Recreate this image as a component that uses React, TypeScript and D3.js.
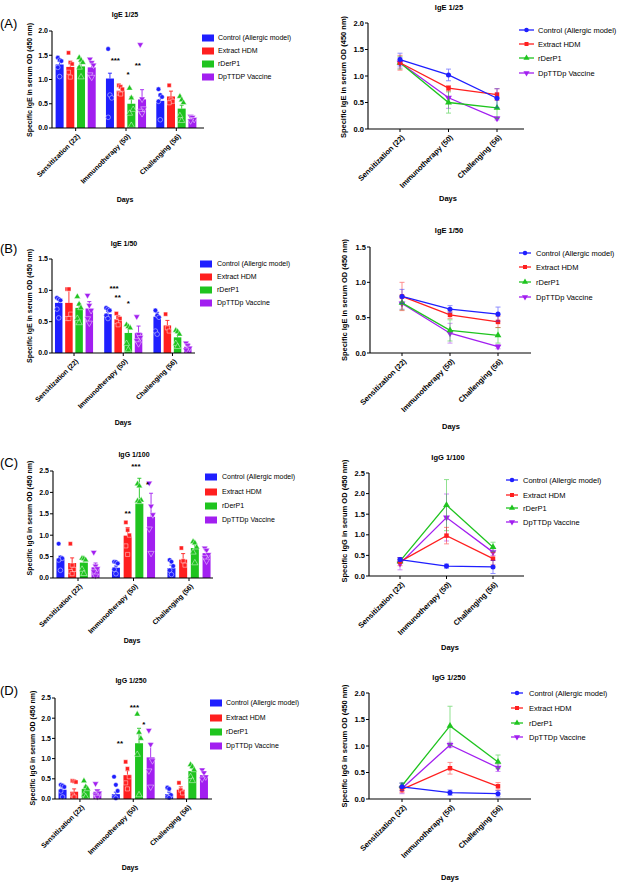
import React from "react";
import * as d3 from "d3";

const categories = ["Sensitization (22)", "Immunotherapy (50)", "Challenging (56)"];
const seriesNames = ["Control (Allergic model)", "Extract HDM", "rDerP1", "DpTTDp Vaccine"];
const seriesNamesA = ["Control (Allergic model)", "Extract HDM", "rDerP1", "DpTTDP Vaccine"];
const seriesColors = ["#1f1fff", "#ff1f1f", "#1fc41f", "#a21ff0"];
const seriesShapes = ["circle", "square", "triangle", "triangleDown"];

// ---- IgE 1/25 ----
const ige25BarMean = [[1.31, 1.02, 0.56], [1.26, 0.77, 0.65], [1.27, 0.5, 0.4], [1.25, 0.59, 0.19]];
const ige25BarSem = [[0.06, 0.11, 0.09], [0.09, 0.05, 0.11], [0.07, 0.14, 0.07], [0.09, 0.2, 0.05]];
const ige25BarPts = [
  [[1.45, 1.4, 1.38, 1.25, 1.06], [1.63, 0.68, 0.62, 0.22], [0.8, 0.68, 0.64, 0.55, 0.17]],
  [[1.55, 1.35, 1.32, 1.15, 1.05], [0.88, 0.85, 0.8, 0.72, 0.7], [0.88, 0.58, 0.55, 0.52]],
  [[1.45, 1.4, 1.35, 1.25, 1.05], [0.82, 0.62, 0.38, 0.3, 0.05], [0.65, 0.58, 0.52, 0.25, 0.15]],
  [[1.42, 1.35, 1.3, 1.1, 1.05], [1.72, 0.6, 0.4, 0.35, 0.3], [0.24, 0.22, 0.18, 0.15]],
];
const ige25Stars = [
  { cat: 1, pos: 0.5, value: 1.42, label: "***" },
  { cat: 1, pos: 1.7, value: 1.13, label: "*" },
  { cat: 1, pos: 2.6, value: 1.32, label: "**" },
];
const ige25LineMean = [[1.31, 1.02, 0.58], [1.25, 0.77, 0.65], [1.25, 0.5, 0.4], [1.25, 0.59, 0.2]];
const ige25LineSem = [[0.12, 0.11, 0.18], [0.14, 0.05, 0.11], [0.12, 0.2, 0.2], [0.1, 0.2, 0.03]];

// ---- IgE 1/50 ----
const ige50BarMean = [[0.8, 0.62, 0.58], [0.8, 0.54, 0.44], [0.72, 0.32, 0.25], [0.71, 0.32, 0.1]];
const ige50BarSem = [[0.05, 0.04, 0.07], [0.2, 0.05, 0.08], [0.07, 0.1, 0.07], [0.11, 0.11, 0.05]];
const ige50BarPts = [
  [[0.88, 0.86, 0.84, 0.7, 0.56], [0.72, 0.7, 0.68, 0.6, 0.55], [0.68, 0.6, 0.57, 0.35, 0.3]],
  [[1.02, 1.02, 0.62, 0.55, 0.55], [0.63, 0.57, 0.55, 0.5, 0.45], [0.62, 0.4, 0.35]],
  [[0.9, 0.78, 0.72, 0.55, 0.48], [0.45, 0.42, 0.4, 0.15, 0.05], [0.36, 0.34, 0.3, 0.15, 0.1]],
  [[0.92, 0.76, 0.68, 0.55, 0.48], [0.58, 0.3, 0.25, 0.2, 0.15], [0.16, 0.12, 0.08, 0.05]],
];
const ige50Stars = [
  { cat: 1, pos: 0.6, value: 1.04, label: "***" },
  { cat: 1, pos: 0.95, value: 0.9, label: "**" },
  { cat: 1, pos: 2.0, value: 0.8, label: "*" },
];
const ige50LineMean = [[0.8, 0.62, 0.55], [0.8, 0.54, 0.44], [0.71, 0.32, 0.25], [0.7, 0.28, 0.09]];
const ige50LineSem = [[0.1, 0.05, 0.1], [0.2, 0.05, 0.08], [0.1, 0.15, 0.11], [0.08, 0.14, 0.03]];

// ---- IgG 1/100 ----
const igg100BarMean = [[0.45, 0.24, 0.23], [0.35, 0.99, 0.43], [0.36, 1.74, 0.7], [0.25, 1.43, 0.58]];
const igg100BarSem = [[0.06, 0.04, 0.07], [0.12, 0.19, 0.14], [0.06, 0.59, 0.08], [0.1, 0.55, 0.07]];
const igg100BarPts = [
  [[0.8, 0.48, 0.46, 0.42, 0.18], [0.38, 0.37, 0.34, 0.2, 0.1], [0.42, 0.38, 0.28, 0.18, 0.08]],
  [[0.8, 0.3, 0.2, 0.15, 0.1], [1.3, 1.12, 1.0, 0.75, 0.55], [0.7, 0.4, 0.3]],
  [[0.46, 0.45, 0.42, 0.2, 0.1], [2.2, 2.15, 1.82, 1.8, 1.78], [0.85, 0.82, 0.72, 0.6, 0.35]],
  [[0.6, 0.28, 0.22, 0.15, 0.05], [2.22, 1.68, 1.48, 1.15, 0.58], [0.7, 0.65, 0.55, 0.48, 0.4]],
];
const igg100Stars = [
  { cat: 1, pos: 1.0, value: 1.54, label: "**" },
  { cat: 1, pos: 1.7, value: 2.62, label: "***" },
  { cat: 1, pos: 2.7, value: 2.2, label: "*" },
];
const igg100LineMean = [[0.4, 0.24, 0.22], [0.35, 0.98, 0.42], [0.36, 1.72, 0.7], [0.3, 1.42, 0.58]];
const igg100LineSem = [[0.05, 0.05, 0.16], [0.1, 0.2, 0.15], [0.05, 0.62, 0.12], [0.15, 0.57, 0.08]];

// ---- IgG 1/250 ----
const igg250BarMean = [[0.23, 0.12, 0.12], [0.18, 0.59, 0.23], [0.25, 1.38, 0.69], [0.18, 1.03, 0.59]];
const igg250BarSem = [[0.05, 0.05, 0.05], [0.07, 0.11, 0.07], [0.07, 0.37, 0.07], [0.05, 0.35, 0.07]];
const igg250BarPts = [
  [[0.35, 0.33, 0.3, 0.2, 0.05], [0.55, 0.35, 0.2, 0.05, 0.02], [0.28, 0.25, 0.1, 0.05, 0.03]],
  [[0.45, 0.44, 0.42, 0.1, 0.05], [0.92, 0.75, 0.55, 0.4, 0.25], [0.4, 0.22, 0.15]],
  [[0.45, 0.3, 0.25, 0.1, 0.05], [2.1, 1.65, 1.5, 1.1, 0.1], [0.85, 0.8, 0.72, 0.55, 0.45]],
  [[0.38, 0.2, 0.15, 0.1, 0.05], [1.7, 1.35, 0.95, 0.7, 0.3], [0.72, 0.65, 0.55, 0.5]],
];
const igg250Stars = [
  { cat: 1, pos: 0.35, value: 1.39, label: "**" },
  { cat: 1, pos: 1.6, value: 2.28, label: "***" },
  { cat: 1, pos: 2.4, value: 1.86, label: "*" },
];
const igg250LineMean = [[0.23, 0.12, 0.1], [0.18, 0.58, 0.24], [0.25, 1.38, 0.7], [0.2, 1.02, 0.59]];
const igg250LineSem = [[0.07, 0.05, 0.06], [0.06, 0.11, 0.07], [0.05, 0.37, 0.13], [0.1, 0.05, 0.07]];

const FONT = "'Liberation Sans', Arial, Helvetica, sans-serif";

function symbolPath(shape: string, size: number) {
  const t =
    shape === "circle" ? d3.symbolCircle : shape === "square" ? d3.symbolSquare : d3.symbolTriangle;
  return d3.symbol().type(t).size(size)() as string;
}

function Marker({ shape, x, y, size, fill, stroke, sw }: any) {
  const rot = shape === "triangleDown" ? 180 : 0;
  return (
    <path
      d={symbolPath(shape, size)}
      transform={`translate(${x},${y}) rotate(${rot})`}
      fill={fill}
      stroke={stroke}
      strokeWidth={sw}
    />
  );
}

function CommonText({ cfg, fs }: any) {
  return (
    <g fontFamily={FONT} fill="#000">
      <text x={cfg.titleX} y={cfg.titleY} dy="0.35em" textAnchor="middle" fontSize={fs} fontWeight="bold">
        {cfg.title}
      </text>
      <text
        transform={`translate(${cfg.ylabX},${cfg.ylabY}) rotate(-90)`}
        dy="0.35em"
        textAnchor="middle"
        fontSize={fs}
        fontWeight="bold"
      >
        {cfg.ylabel}
      </text>
      <text x={cfg.daysX} y={cfg.daysY} dy="0.35em" textAnchor="middle" fontSize={fs} fontWeight="bold">
        Days
      </text>
      {cfg.letter && (
        <text x={0} y={cfg.letterY} dy="0.36em" fontSize={13}>
          {cfg.letter}
        </text>
      )}
    </g>
  );
}

function Axes({ cfg, y, xs, fs }: any) {
  const ticks = d3.range(0, cfg.yMax + 1e-9, 0.5);
  return (
    <g fontFamily={FONT}>
      <line x1={cfg.axisX} x2={cfg.axisX} y1={cfg.yBottom} y2={y(cfg.yMax)} stroke="#000" strokeWidth={1.1} />
      <line x1={cfg.axisX} x2={cfg.axisEnd} y1={cfg.yBottom} y2={cfg.yBottom} stroke="#000" strokeWidth={1.1} />
      {ticks.map((t: number) => (
        <g key={t}>
          <line x1={cfg.axisX - 3} x2={cfg.axisX} y1={y(t)} y2={y(t)} stroke="#000" strokeWidth={1} />
          <text x={cfg.axisX - 4} y={y(t)} dy="0.35em" textAnchor="end" fontSize={fs} fontWeight="bold">
            {d3.format(".1f")(t)}
          </text>
        </g>
      ))}
      {categories.map((c, i) => (
        <g key={c}>
          <line x1={xs[i]} x2={xs[i]} y1={cfg.yBottom} y2={cfg.yBottom + 3} stroke="#000" strokeWidth={1} />
          <text
            transform={`translate(${xs[i] + 3},${cfg.yBottom + 7}) rotate(-45)`}
            dy="0.35em"
            textAnchor="end"
            fontSize={fs}
            fontWeight="bold"
          >
            {c}
          </text>
        </g>
      ))}
    </g>
  );
}

function BarPanel({ cfg, mean, sem, pts, stars, names }: any) {
  const y = d3.scaleLinear().domain([0, cfg.yMax]).range([cfg.yBottom, cfg.yTop]);
  const x0 = d3.scaleBand<number>().domain([0, 1, 2]).range(cfg.band);
  const x1 = d3
    .scaleBand<number>()
    .domain([0, 1, 2, 3])
    .range([-2 * cfg.barStep, 2 * cfg.barStep])
    .paddingInner(1 - cfg.barW / cfg.barStep)
    .paddingOuter((1 - cfg.barW / cfg.barStep) / 2);
  const cx = (c: number) => (x0(c) as number) + x0.bandwidth() / 2;
  const sx = (c: number, s: number) => cx(c) + (x1(s) as number) + x1.bandwidth() / 2;
  const xs = [0, 1, 2].map(cx);
  const bw = x1.bandwidth();
  return (
    <g>
      {mean.map((row: number[], s: number) =>
        row.map((m: number, c: number) => {
          const xc = sx(c, s);
          const top = y(m + sem[s][c]);
          return (
            <g key={`${s}-${c}`}>
              <line x1={xc} x2={xc} y1={y(m)} y2={top} stroke={seriesColors[s]} strokeWidth={0.9} />
              <line x1={xc - 2} x2={xc + 2} y1={top} y2={top} stroke={seriesColors[s]} strokeWidth={0.9} />
              <rect x={xc - bw / 2} y={y(m)} width={bw} height={cfg.yBottom - y(m)} fill={seriesColors[s]} />
              {pts[s][c].map((v: number, i: number) => (
                <Marker
                  key={i}
                  shape={seriesShapes[s]}
                  x={xc + ((i % 3) - 1) * 1.8}
                  y={y(v)}
                  size={17}
                  fill={seriesColors[s]}
                  stroke="rgba(255,255,255,0.75)"
                  sw={0.6}
                />
              ))}
            </g>
          );
        })
      )}
      {stars.map((st: any, i: number) => {
        const xc = cx(st.cat) + (st.pos - 1.5) * cfg.barStep;
        return (
          <text
            key={i}
            x={xc}
            y={y(st.value)}
            dy="0.45em"
            textAnchor="middle"
            fontSize={8}
            fontWeight="bold"
            fontFamily={FONT}
          >
            {st.label}
          </text>
        );
      })}
      <Axes cfg={cfg} y={y} xs={xs} fs={7} />
      <CommonText cfg={cfg} fs={7} />
      <g fontFamily={FONT}>
        {names.map((n: string, s: number) => (
          <g key={n}>
            <rect x={cfg.legX} y={cfg.legRows[s] - 3.5} width={12} height={7} fill={seriesColors[s]} />
            <text x={cfg.legTextX} y={cfg.legRows[s]} dy="0.35em" fontSize={7}>
              {n}
            </text>
          </g>
        ))}
      </g>
    </g>
  );
}

function LinePanel({ cfg, mean, sem }: any) {
  const y = d3.scaleLinear().domain([0, cfg.yMax]).range([cfg.yBottom, cfg.yTop]);
  const x = d3.scalePoint<number>().domain([0, 1, 2]).range(cfg.pts);
  const xs = [0, 1, 2].map((c) => x(c) as number);
  const line = d3
    .line<number>()
    .x((_, i) => x(i) as number)
    .y((d) => y(d));
  const order = [3, 2, 1, 0];
  return (
    <g>
      {order.map((s) => (
        <g key={s}>
          {mean[s].map((m: number, c: number) => {
            const xc = x(c) as number;
            const lo = y(Math.max(0, m - sem[s][c]));
            const hi = y(m + sem[s][c]);
            return (
              <g key={c} stroke={seriesColors[s]} strokeWidth={0.9} opacity={0.55}>
                <line x1={xc} x2={xc} y1={lo} y2={hi} />
                <line x1={xc - 2.5} x2={xc + 2.5} y1={lo} y2={lo} />
                <line x1={xc - 2.5} x2={xc + 2.5} y1={hi} y2={hi} />
              </g>
            );
          })}
          <path d={line(mean[s]) as string} fill="none" stroke={seriesColors[s]} strokeWidth={1.3} />
          {mean[s].map((m: number, c: number) => (
            <Marker
              key={c}
              shape={seriesShapes[s]}
              x={x(c)}
              y={y(m)}
              size={20}
              fill={seriesColors[s]}
              stroke="none"
              sw={0}
            />
          ))}
        </g>
      ))}
      <Axes cfg={cfg} y={y} xs={xs} fs={7.5} />
      <CommonText cfg={cfg} fs={7.5} />
      <g fontFamily={FONT}>
        {seriesNames.map((n: string, s: number) => (
          <g key={n}>
            <line
              x1={cfg.legX0}
              x2={cfg.legX1}
              y1={cfg.legRows[s]}
              y2={cfg.legRows[s]}
              stroke={seriesColors[s]}
              strokeWidth={1.3}
            />
            <Marker
              shape={seriesShapes[s]}
              x={(cfg.legX0 + cfg.legX1) / 2}
              y={cfg.legRows[s]}
              size={16}
              fill={seriesColors[s]}
              stroke="none"
              sw={0}
            />
            <text x={cfg.legTextX} y={cfg.legRows[s]} dy="0.35em" fontSize={7.5}>
              {n}
            </text>
          </g>
        ))}
      </g>
    </g>
  );
}

const barA = {
  axisX: 52, axisEnd: 204, yBottom: 128, yTop: 31, yMax: 2.0, band: [50.5, 201.5], barStep: 10.7, barW: 8,
  title: "IgE 1/25", titleX: 125, titleY: 15, ylabel: "Specific IgE in serum OD (450 nm)", ylabX: 30, ylabY: 80,
  daysX: 125, daysY: 200, letter: "(A)", letterY: 23, legX: 202, legTextX: 218, legRows: [38, 51, 64, 77],
};
const barB = {
  axisX: 52, axisEnd: 195, yBottom: 353, yTop: 259, yMax: 1.5, band: [49.4, 197.1], barStep: 10.2, barW: 7.5,
  title: "IgE 1/50", titleX: 124, titleY: 244, ylabel: "Specific IgE in serum OD (450 nm)", ylabX: 30, ylabY: 306,
  daysX: 123, daysY: 423, letter: "(B)", letterY: 248, legX: 200, legTextX: 217, legRows: [264, 277, 290, 303],
};
const barC = {
  axisX: 53, axisEnd: 213, yBottom: 578, yTop: 471, yMax: 2.5, band: [50.25, 216.75], barStep: 11.7, barW: 8,
  title: "IgG 1/100", titleX: 134, titleY: 455, ylabel: "Specific IgG in serum OD (450 nm)", ylabX: 30, ylabY: 518,
  daysX: 132, daysY: 641, letter: "(C)", letterY: 462, legX: 205, legTextX: 222, legRows: [477, 492, 506, 520],
};
const barD = {
  axisX: 55, axisEnd: 212, yBottom: 799, yTop: 698, yMax: 2.5, band: [53.3, 213.2], barStep: 11.6, barW: 8,
  title: "IgG 1/250", titleX: 131, titleY: 681, ylabel: "Specific IgG in serum OD (450 nm)", ylabX: 33, ylabY: 748,
  daysX: 130, daysY: 868, letter: "(D)", letterY: 690, legX: 210, legTextX: 226, legRows: [703, 718, 732, 746],
};
const lineA = {
  axisX: 368, axisEnd: 524, yBottom: 129, yTop: 23, yMax: 2.0, pts: [400, 497],
  title: "IgE 1/25", titleX: 449, titleY: 7, ylabel: "Specific IgE in serum OD (450 nm)", ylabX: 343, ylabY: 77,
  daysX: 448, daysY: 198, legX0: 519, legX1: 534, legTextX: 538, legRows: [30, 44, 58, 73],
};
const lineB = {
  axisX: 370, axisEnd: 531, yBottom: 353, yTop: 247, yMax: 1.5, pts: [402, 498],
  title: "IgE 1/50", titleX: 449, titleY: 230, ylabel: "Specific IgE in serum OD (450 nm)", ylabX: 344, ylabY: 300,
  daysX: 451, daysY: 426, legX0: 519, legX1: 531, legTextX: 536, legRows: [253, 267, 282, 297],
};
const lineC = {
  axisX: 369, axisEnd: 524, yBottom: 576, yTop: 473, yMax: 2.5, pts: [400, 493],
  title: "IgG 1/100", titleX: 448, titleY: 457, ylabel: "Specific IgG in serum OD (450 nm)", ylabX: 344, ylabY: 521,
  daysX: 450, daysY: 647, legX0: 506, legX1: 518, legTextX: 523, legRows: [480, 495, 508, 522],
};
const lineD = {
  axisX: 369, axisEnd: 531, yBottom: 799, yTop: 693, yMax: 2.0, pts: [402, 498],
  title: "IgG 1/250", titleX: 449, titleY: 677, ylabel: "Specific IgG in serum OD (450 nm)", ylabX: 344, ylabY: 746,
  daysX: 450, daysY: 877, legX0: 511, legX1: 523, legTextX: 529, legRows: [693, 708, 723, 737],
};

export default function App() {
  return (
    <svg
      width={622}
      height={883}
      viewBox="0 0 622 883"
      style={{ position: "absolute", left: 0, top: 0, background: "#fff" }}
    >
      <rect width={622} height={883} fill="#fff" />
      <BarPanel cfg={barA} mean={ige25BarMean} sem={ige25BarSem} pts={ige25BarPts} stars={ige25Stars} names={seriesNamesA} />
      <LinePanel cfg={lineA} mean={ige25LineMean} sem={ige25LineSem} />
      <BarPanel cfg={barB} mean={ige50BarMean} sem={ige50BarSem} pts={ige50BarPts} stars={ige50Stars} names={seriesNames} />
      <LinePanel cfg={lineB} mean={ige50LineMean} sem={ige50LineSem} />
      <BarPanel cfg={barC} mean={igg100BarMean} sem={igg100BarSem} pts={igg100BarPts} stars={igg100Stars} names={seriesNames} />
      <LinePanel cfg={lineC} mean={igg100LineMean} sem={igg100LineSem} />
      <BarPanel cfg={barD} mean={igg250BarMean} sem={igg250BarSem} pts={igg250BarPts} stars={igg250Stars} names={seriesNames} />
      <LinePanel cfg={lineD} mean={igg250LineMean} sem={igg250LineSem} />
    </svg>
  );
}
